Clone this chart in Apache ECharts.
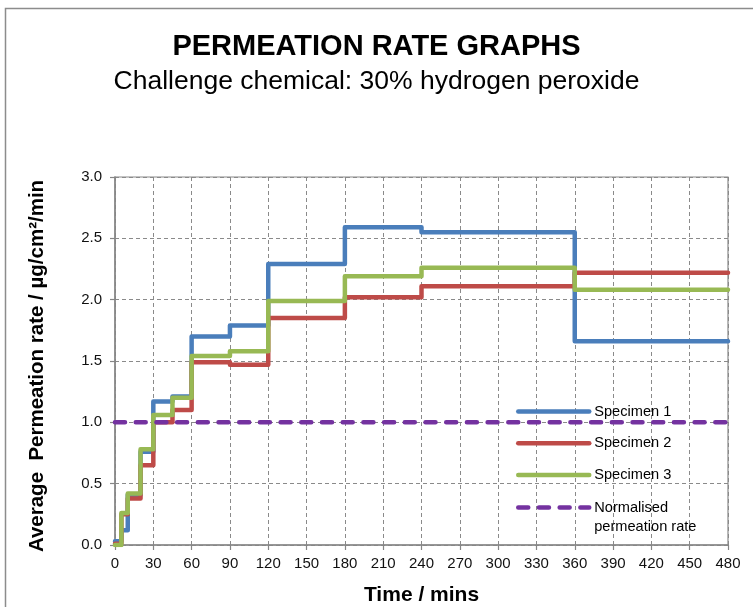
<!DOCTYPE html>
<html>
<head>
<meta charset="utf-8">
<script src="https://cdn.jsdelivr.net/npm/echarts@6/dist/echarts.min.js"></script>
<style>
  html, body { margin: 0; padding: 0; background: #ffffff; }
  #chart { width: 753px; height: 607px; }
</style>
</head>
<body>
<div id="chart"></div>
<script>
// Sampling interval start times (mins); the last entry closes the final interval
const stepTimes = [0, 5, 10, 20, 30, 45, 60, 90, 120, 180, 240, 360, 480];

// Average permeation rate over each interval (µg/cm²/min)
const specimen1 = [0.03, 0.12, 0.41, 0.76, 1.17, 1.21, 1.70, 1.79, 2.29, 2.59, 2.55, 1.66];
const specimen2 = [0.01, 0.25, 0.38, 0.65, 1.00, 1.10, 1.49, 1.47, 1.85, 2.02, 2.11, 2.22];
const specimen3 = [0.00, 0.26, 0.42, 0.78, 1.06, 1.20, 1.54, 1.58, 1.99, 2.19, 2.26, 2.08];

// Normalised permeation rate reference level
const normalisedRate = 1.0;

const seriesNames = ['Specimen 1', 'Specimen 2', 'Specimen 3', 'Normalised permeation rate'];
const yTicks = [0.0, 0.5, 1.0, 1.5, 2.0, 2.5, 3.0];
const xTickStep = 30;

const colors = ['#4A7EBB', '#BE4B48', '#98B954', '#7432A0'];
const FONT = 'Liberation Sans, Arial, sans-serif';
const LINE_W = 4.5;

// Step series: each value holds until the next time point
function stepData(values) {
  return stepTimes.map((t, i) => [t, values[Math.min(i, values.length - 1)]]);
}

function stepSeries(name, values, color) {
  return {
    name: name,
    type: 'line',
    step: 'end',
    data: stepData(values),
    symbol: 'none',
    lineStyle: { color: color, width: LINE_W, cap: 'round', join: 'round' },
    itemStyle: { color: color },
    silent: true
  };
}

const chart = echarts.init(document.getElementById('chart'), null, { renderer: 'canvas' });

const option = {
  animation: false,
  backgroundColor: '#ffffff',
  textStyle: { fontFamily: FONT },
  title: [
    {
      text: 'PERMEATION RATE GRAPHS',
      left: 'center',
      top: 27,
      textStyle: { fontSize: 29, fontWeight: 'bold', color: '#000', fontFamily: FONT }
    },
    {
      text: 'Challenge chemical: 30% hydrogen peroxide',
      left: 'center',
      top: 63,
      textStyle: { fontSize: 26.5, fontWeight: 'normal', color: '#000', fontFamily: FONT }
    }
  ],
  graphic: [
    {
      type: 'rect',
      shape: { x: 5.5, y: 8.5, width: 800, height: 700 },
      style: { fill: 'none', stroke: '#8c8c8c', lineWidth: 1.5 },
      silent: true,
      z: -10
    }
  ],
  grid: {
    left: 115,
    right: 25,
    top: 177,
    bottom: 62,
    outerBoundsMode: 'none',
    containLabel: false,
    show: true,
    borderColor: '#8a8a8a',
    borderWidth: 1.2,
    backgroundColor: 'transparent'
  },
  legend: [
    {
      data: seriesNames.slice(0, 3),
      orient: 'vertical',
      left: 516,
      top: 402.5,
      padding: 0,
      itemWidth: 71,
      itemHeight: 18,
      itemGap: 13.7,
      itemStyle: { opacity: 0 },
      lineStyle: { width: LINE_W, cap: 'round' },
      textStyle: { fontSize: 14.6, color: '#000', lineHeight: 18, fontFamily: FONT },
      selectedMode: false
    },
    {
      data: seriesNames.slice(3),
      orient: 'vertical',
      left: 516,
      top: 479,
      padding: 0,
      itemWidth: 71,
      itemHeight: 18,
      itemStyle: { opacity: 0 },
      lineStyle: { width: LINE_W, cap: 'round', type: [10, 10.7] },
      // label wraps onto two lines, first line level with the key
      formatter: () => '\nNormalised\npermeation rate',
      textStyle: { fontSize: 14.6, color: '#000', lineHeight: 19, fontFamily: FONT },
      selectedMode: false
    }
  ],
  xAxis: {
    type: 'value',
    min: 0,
    max: stepTimes[stepTimes.length - 1],
    interval: xTickStep,
    name: 'Time / mins',
    nameLocation: 'middle',
    nameGap: 40,
    nameTextStyle: { fontSize: 21, fontWeight: 'bold', color: '#000', fontFamily: FONT },
    axisLine: { show: true, onZero: false, lineStyle: { color: '#868686', width: 1.5 } },
    axisTick: { show: true, length: 5, lineStyle: { color: '#868686', width: 1.2 } },
    axisLabel: { fontSize: 15, color: '#111', margin: 11, fontFamily: FONT },
    splitLine: { show: true, lineStyle: { color: '#8a8a8a', width: 1, type: [4, 3] } }
  },
  yAxis: {
    type: 'value',
    min: yTicks[0],
    max: yTicks[yTicks.length - 1],
    interval: 0.5,
    name: 'Average  Permeation rate / µg/cm²/min',
    nameLocation: 'middle',
    nameGap: 67,
    nameTextStyle: { fontSize: 20.5, fontWeight: 'bold', color: '#000', fontFamily: FONT, padding: [0, 10, 0, 0] },
    axisLine: { show: true, lineStyle: { color: '#868686', width: 1.5 } },
    axisTick: { show: true, length: 5, lineStyle: { color: '#868686', width: 1.2 } },
    axisLabel: {
      fontSize: 15,
      color: '#111',
      margin: 13,
      fontFamily: FONT,
      formatter: v => v.toFixed(1)
    },
    splitLine: { show: true, lineStyle: { color: '#8a8a8a', width: 1, type: [4, 3] } }
  },
  series: [
    stepSeries(seriesNames[0], specimen1, colors[0]),
    stepSeries(seriesNames[1], specimen2, colors[1]),
    stepSeries(seriesNames[2], specimen3, colors[2]),
    {
      name: seriesNames[3],
      type: 'line',
      data: [[stepTimes[0], normalisedRate], [stepTimes[stepTimes.length - 1], normalisedRate]],
      symbol: 'none',
      lineStyle: { color: colors[3], width: LINE_W, type: [10, 10.7], cap: 'round' },
      itemStyle: { color: colors[3] },
      silent: true
    }
  ]
};

chart.setOption(option);
</script>
</body>
</html>
